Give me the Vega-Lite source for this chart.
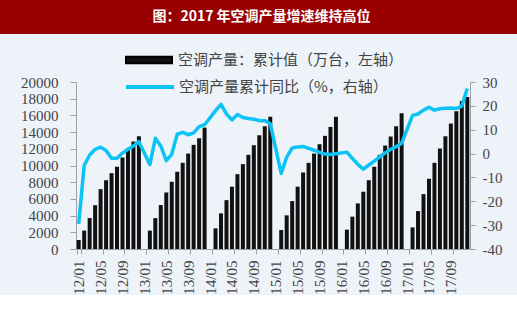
{
  "$schema": "https://vega.github.io/schema/vega-lite/v6.json",
  "padding": {"left": -7, "top": 0, "right": 0, "bottom": 0},
  "background": "#eef3f9",
  "spacing": 41,
  "config": {
    "view": {"stroke": null},
    "axis": {"domainColor": "#a0a0a0", "tickColor": "#a0a0a0", "labelColor": "#444444", "labelFont": "Liberation Serif", "labelFontSize": 15, "grid": false}
  },
  "vconcat": [
    {
      "width": 517,
      "height": 34,
      "view": {"fill": "#990000", "stroke": null},
      "data": {"values": [{"t": "图：2017 年空调产量增速维持高位"}]},
      "mark": {"type": "text", "color": "#ffffff", "font": "Noto Sans CJK SC", "fontSize": 14, "fontWeight": "bold", "dx": 3},
      "encoding": {"text": {"field": "t"}}
    },
    {
      "width": 517,
      "height": 167,
      "data": {"values": [
        {"m": "12/01", "v": 1080, "g": -29.5},
        {"m": "12/02", "v": 2200, "g": -5.0},
        {"m": "12/03", "v": 3700, "g": -0.6},
        {"m": "12/04", "v": 5250, "g": 1.8},
        {"m": "12/05", "v": 7170, "g": 2.7},
        {"m": "12/06", "v": 8240, "g": 1.3},
        {"m": "12/07", "v": 9080, "g": -2.0},
        {"m": "12/08", "v": 9850, "g": -2.0},
        {"m": "12/09", "v": 10960, "g": 0.2},
        {"m": "12/10", "v": 11830, "g": 1.8},
        {"m": "12/11", "v": 12870, "g": 3.2},
        {"m": "12/12", "v": 13500, "g": 5.0},
        {"m": "13/01", "v": null, "g": null},
        {"m": "13/02", "v": 2200, "g": -4.6},
        {"m": "13/03", "v": 3700, "g": 6.4},
        {"m": "13/04", "v": 5260, "g": 3.2},
        {"m": "13/05", "v": 6770, "g": -3.0},
        {"m": "13/06", "v": 8050, "g": -0.3},
        {"m": "13/07", "v": 9250, "g": 8.1},
        {"m": "13/08", "v": 10320, "g": 8.9},
        {"m": "13/09", "v": 11430, "g": 7.9},
        {"m": "13/10", "v": 12470, "g": 8.7},
        {"m": "13/11", "v": 13260, "g": 11.3},
        {"m": "13/12", "v": 14540, "g": 12.1},
        {"m": "14/01", "v": null, "g": null},
        {"m": "14/02", "v": 2470, "g": 18.0},
        {"m": "14/03", "v": 4270, "g": 20.6},
        {"m": "14/04", "v": 5850, "g": 16.6},
        {"m": "14/05", "v": 7460, "g": 14.1},
        {"m": "14/06", "v": 8960, "g": 16.4},
        {"m": "14/07", "v": 10160, "g": 15.1},
        {"m": "14/08", "v": 11280, "g": 14.7},
        {"m": "14/09", "v": 12430, "g": 14.4},
        {"m": "14/10", "v": 13620, "g": 13.8},
        {"m": "14/11", "v": 14700, "g": 13.9},
        {"m": "14/12", "v": 15850, "g": 12.5},
        {"m": "15/01", "v": null, "g": null},
        {"m": "15/02", "v": 2270, "g": -8.3},
        {"m": "15/03", "v": 4030, "g": -1.5},
        {"m": "15/04", "v": 5740, "g": 2.3},
        {"m": "15/05", "v": 7460, "g": 2.8},
        {"m": "15/06", "v": 9160, "g": 3.0},
        {"m": "15/07", "v": 10320, "g": 2.2},
        {"m": "15/08", "v": 11430, "g": 1.4},
        {"m": "15/09", "v": 12550, "g": 0.5},
        {"m": "15/10", "v": 13550, "g": -0.2},
        {"m": "15/11", "v": 14620, "g": -0.4},
        {"m": "15/12", "v": 15850, "g": -0.1},
        {"m": "16/01", "v": null, "g": null},
        {"m": "16/02", "v": 2320, "g": 0.6},
        {"m": "16/03", "v": 3870, "g": -2.0},
        {"m": "16/04", "v": 5460, "g": -4.5},
        {"m": "16/05", "v": 6860, "g": -6.5},
        {"m": "16/06", "v": 8240, "g": -4.8},
        {"m": "16/07", "v": 9850, "g": -3.2},
        {"m": "16/08", "v": 11280, "g": -1.4},
        {"m": "16/09", "v": 12390, "g": 0.3},
        {"m": "16/10", "v": 13470, "g": 1.8},
        {"m": "16/11", "v": 14700, "g": 2.9},
        {"m": "16/12", "v": 16250, "g": 4.3},
        {"m": "17/01", "v": null, "g": null},
        {"m": "17/02", "v": 2590, "g": 16.0},
        {"m": "17/03", "v": 4540, "g": 16.6},
        {"m": "17/04", "v": 6570, "g": 18.2},
        {"m": "17/05", "v": 8410, "g": 19.4},
        {"m": "17/06", "v": 10320, "g": 18.2},
        {"m": "17/07", "v": 12030, "g": 18.8},
        {"m": "17/08", "v": 13500, "g": 19.0},
        {"m": "17/09", "v": 15020, "g": 19.1},
        {"m": "17/10", "v": 16490, "g": 18.9},
        {"m": "17/11", "v": 17730, "g": 19.9},
        {"m": "17/12", "v": 18210, "g": 27.3}
      ]},
      "encoding": {
        "x": {
          "field": "m",
          "type": "ordinal",
          "scale": {
            "domain": ["12/01","12/02","12/03","12/04","12/05","12/06","12/07","12/08","12/09","12/10","12/11","12/12",
                       "13/01","13/02","13/03","13/04","13/05","13/06","13/07","13/08","13/09","13/10","13/11","13/12",
                       "14/01","14/02","14/03","14/04","14/05","14/06","14/07","14/08","14/09","14/10","14/11","14/12",
                       "15/01","15/02","15/03","15/04","15/05","15/06","15/07","15/08","15/09","15/10","15/11","15/12",
                       "16/01","16/02","16/03","16/04","16/05","16/06","16/07","16/08","16/09","16/10","16/11","16/12",
                       "17/01","17/02","17/03","17/04","17/05","17/06","17/07","17/08","17/09","17/10","17/11","17/12"],
            "range": [76, 470],
            "paddingInner": 0.27,
            "paddingOuter": 0.13
          },
          "axis": {
            "title": null,
            "values": ["12/01","12/05","12/09","13/01","13/05","13/09","14/01","14/05","14/09","15/01","15/05","15/09","16/01","16/05","16/09","17/01","17/05","17/09"],
            "labelAngle": 270,
            "tickBand": "extent",
            "tickSize": 5,
            "labelPadding": 6
          }
        }
      },
      "layer": [
        {
          "transform": [{"filter": "datum.v != null"}],
          "mark": {"type": "bar"},
          "encoding": {
            "y": {
              "field": "v",
              "type": "quantitative",
              "scale": {"domain": [0, 20000], "nice": false},
              "axis": {"orient": "left", "offset": -76, "title": null, "values": [0,2000,4000,6000,8000,10000,12000,14000,16000,18000,20000], "format": "d", "tickSize": 6, "labelPadding": 12}
            },
            "fill": {
              "datum": "空调产量：累计值（万台，左轴）",
              "type": "nominal",
              "scale": {"range": ["#111111"]},
              "legend": {
                "title": null,
                "orient": "none",
                "legendX": 140,
                "legendY": 51,
                "padding": 0,
                "symbolType": "M-2.875,-0.41H2.875V0.41H-2.875Z",
                "symbolSize": 256,
                "symbolStrokeWidth": 2,
                "labelFont": "Noto Sans CJK SC",
                "labelFontSize": 15,
                "labelColor": "#444444",
                "labelLimit": 400,
                "labelOffset": 20,
                "encode": {"symbols": {"update": {"fill": {"value": "#2f55e0"}, "stroke": {"value": "#000000"}, "strokeWidth": {"value": 2}, "opacity": {"value": 1}}}}
              }
            }
          }
        },
        {
          "transform": [{"filter": "datum.g != null"}],
          "mark": {"type": "line", "strokeWidth": 3.5, "strokeJoin": "round"},
          "encoding": {
            "y": {
              "field": "g",
              "type": "quantitative",
              "scale": {"domain": [-40, 30], "nice": false},
              "axis": {"orient": "right", "offset": -47, "title": null, "values": [-40,-30,-20,-10,0,10,20,30], "labelExpr": "'' + datum.value", "tickSize": 5, "labelPadding": 7}
            },
            "stroke": {
              "datum": "空调产量累计同比（%，右轴）",
              "type": "nominal",
              "scale": {"range": ["#0cc3f5"]},
              "legend": {
                "title": null,
                "orient": "none",
                "legendX": 140,
                "legendY": 77,
                "padding": 0,
                "symbolType": "M-3,0H3",
                "symbolSize": 256,
                "symbolStrokeWidth": 4,
                "labelFont": "Noto Sans CJK SC",
                "labelFontSize": 15,
                "labelColor": "#444444",
                "labelLimit": 400,
                "labelOffset": 19,
                "encode": {"symbols": {"update": {"fill": {"value": "transparent"}, "stroke": {"value": "#0cc3f5"}, "strokeWidth": {"value": 4}, "opacity": {"value": 1}}}}
              }
            }
          }
        }
      ],
      "resolve": {"scale": {"y": "independent"}}
    }
  ]
}
